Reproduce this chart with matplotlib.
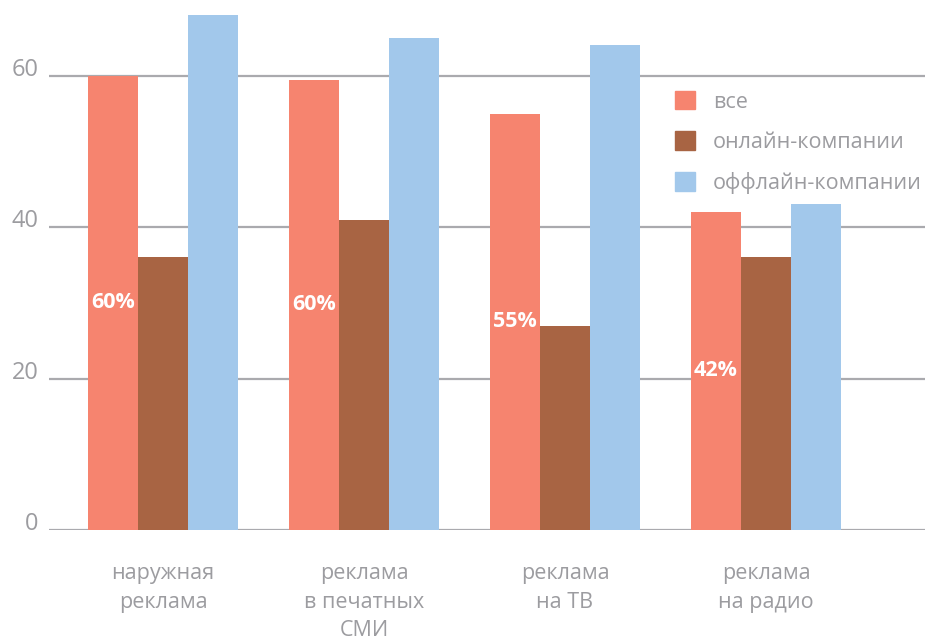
import matplotlib
matplotlib.use("Agg")
import matplotlib.pyplot as plt
import numpy as np
from matplotlib.patches import Patch

plt.rcParams["font.family"] = ["Open Sans", "DejaVu Sans"]

categories = ["наружная\nреклама", "реклама\nв печатных\nСМИ", "реклама\nна ТВ", "реклама\nна радио"]
series_names = ["все", "онлайн-компании", "оффлайн-компании"]
vse = [60, 59.5, 55, 42]
online = [36, 41, 27, 36]
offline = [68, 65, 64, 43]
yticks = [0, 20, 40, 60]

colors = ["#F6846F", "#A86443", "#A2C8EB"]
grid_c = "#AAAAAE"
text_c = "#9C9CA0"

fig = plt.figure(figsize=(9.28, 6.44), dpi=100)
ax = fig.add_axes([49 / 928, 1 - 530 / 644, 876 / 928, 530 / 644])

x = np.arange(len(categories))
w = 0.25
for k, vals in enumerate([vse, online, offline]):
    ax.bar(x + (k - 1) * w, vals, width=w, color=colors[k], zorder=2,
           label=series_names[k])

# percentage labels in the middle of the "все" bars
for xi, v in zip(x - w, vse):
    ax.text(xi, v / 2, f"{v:.0f}%", color="white", fontsize=15.5,
            fontweight="bold", ha="center", va="center", zorder=3)

ax.set_xlim(-0.567, 3.791)
ax.set_ylim(0, 70)
for v in yticks:
    ax.axhline(v, color=grid_c, lw=1.6, zorder=1)
    ax.text(-0.012, v, str(v), transform=ax.get_yaxis_transform(),
            ha="right", va="baseline", color=text_c, fontsize=17)

for xi, lab in zip(x, categories):
    ax.annotate(lab, (xi, 0), xytext=(0, -24), textcoords="offset points",
                ha="center", va="top", color=text_c, fontsize=15.5,
                linespacing=1.45, annotation_clip=False)

ax.set_xticks([])
ax.set_yticks([])
for s in ax.spines.values():
    s.set_visible(False)

handles = [Patch(color=c) for c in colors]
leg = fig.legend(handles, series_names, loc="upper left",
                 bbox_to_anchor=(675 / 928, 1 - 91 / 644), frameon=False,
                 fontsize=15.5, handlelength=0.93, handleheight=0.93,
                 handletextpad=0.82, labelspacing=0.88, borderpad=0,
                 borderaxespad=0)
for t in leg.get_texts():
    t.set_color(text_c)

fig.savefig("out.png", dpi=100)
